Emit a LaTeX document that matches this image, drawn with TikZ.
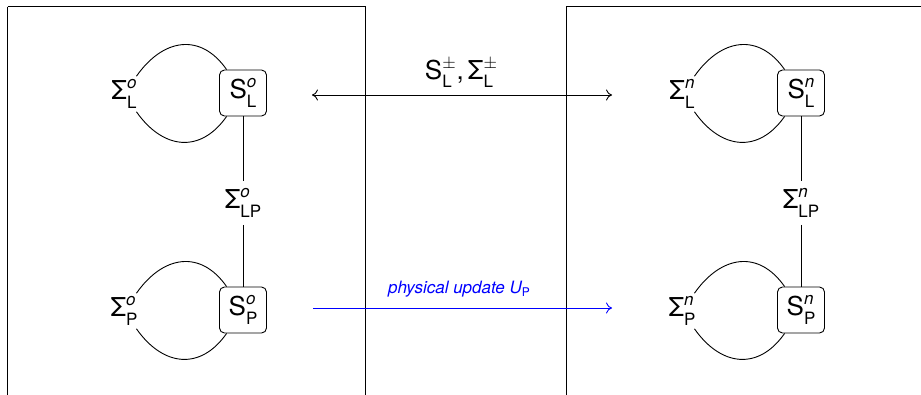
\documentclass[tikz,border=0pt]{standalone}
\usepackage{fontspec}
\usetikzlibrary{arrows.meta}
\setmainfont{TeX Gyre Heros}
\newcommand\mainsz{\fontsize{26}{30}\selectfont}
\newcommand\subsz{\fontsize{17}{20}\selectfont}
\newcommand\supsub[3]{#1\setbox0=\hbox{\subsz\itshape #2}\setbox2=\hbox{\subsz #3}\ifdim\wd0>\wd2 \wd2=\wd0 \fi\rlap{\raisebox{0.42em}{\box0}}\raisebox{-0.33em}{\box2}}
\newcommand\mpm{{\fontsize{19}{22}\selectfont$\pm$}}
\tikzset{
  sbox/.style={draw, rounded corners=5pt, minimum width=47pt, minimum height=46pt, inner sep=2pt, font=\mainsz},
  slab/.style={inner sep=3pt, font=\mainsz},
  mlab/.style={inner xsep=3pt, inner ysep=7pt, font=\mainsz},
  frame/.style={line width=1pt},
  tip/.style={arrows={#1}},
}
\begin{document}
\begin{tikzpicture}[x=1pt,y=-1pt,line width=0.9pt]
\useasboundingbox (0,0) rectangle (921,394);
\clip (0,0) rectangle (921,394);
% frames
\draw[frame] (7.5,6.5) -- (7.5,420);
\draw[frame] (7.5,6.5) -- (365.5,6.5) -- (365.5,420);
\draw[frame] (566,6.5) -- (566,420);
\draw[frame] (566,6.5) -- (940,6.5);
% left (old)
\node[sbox] (SLo) at (243,93) {\supsub{S}{o}{L}};
\node[sbox] (SPo) at (243,310) {\supsub{S}{o}{P}};
\node[slab] (sLo) at (124,94) {\supsub{Σ}{o}{L}};
\node[slab] (sPo) at (124,311) {\supsub{Σ}{o}{P}};
\node[mlab] (sLPo) at (243,203) {\supsub{Σ}{o}{LP}};
\draw (sLo) to[out=55,in=125,looseness=1.3] (SLo);
\draw (sLo) to[out=-55,in=-125,looseness=1.3] (SLo);
\draw (sPo) to[out=55,in=125,looseness=1.3] (SPo);
\draw (sPo) to[out=-55,in=-125,looseness=1.3] (SPo);
\draw (SLo) -- (sLPo) -- (SPo);
% right (new)
\node[sbox] (SLn) at (801,93) {\supsub{S}{n}{L}};
\node[sbox] (SPn) at (801,310) {\supsub{S}{n}{P}};
\node[slab] (sLn) at (682,94) {\supsub{Σ}{n}{L}};
\node[slab] (sPn) at (682,311) {\supsub{Σ}{n}{P}};
\node[mlab] (sLPn) at (801,203) {\supsub{Σ}{n}{LP}};
\draw (sLn) to[out=55,in=125,looseness=1.3] (SLn);
\draw (sLn) to[out=-55,in=-125,looseness=1.3] (SLn);
\draw (sPn) to[out=55,in=125,looseness=1.3] (SPn);
\draw (sPn) to[out=-55,in=-125,looseness=1.3] (SPn);
\draw (SLn) -- (sLPn) -- (SPn);
% arrows
\coordinate (a1) at (312,95);
\coordinate (a2) at (612,95);
\coordinate (b1) at (313,308);
\coordinate (b2) at (612,308);
\draw[tip={To[length=6pt,width=11pt]}-{To[length=6pt,width=11pt]}] (a1) -- (a2);
\node[font=\mainsz, inner sep=0pt] (lab1) at (461,73) {\supsub{S}{\mpm}{L}\kern1pt,\kern4pt\supsub{Σ}{\mpm}{L}};
\draw[tip={-To[length=6pt,width=11pt]}, blue] (b1) -- (b2);
\node[font=\fontsize{17}{20}\selectfont\itshape, text=blue, anchor=base, inner sep=0pt] (lab2) at (459,293) {physical update U\raisebox{-0.2em}{\fontsize{12}{14}\selectfont\upshape P}};
\end{tikzpicture}
\end{document}
